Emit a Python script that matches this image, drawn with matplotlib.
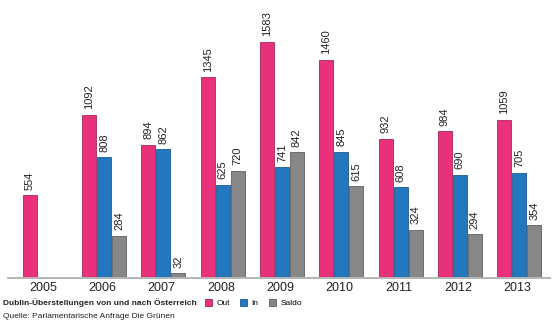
import matplotlib
matplotlib.use("Agg")
import matplotlib.pyplot as plt
import numpy as np

# data
years = ["2005", "2006", "2007", "2008", "2009", "2010", "2011", "2012", "2013"]
out_vals = [554, 1092, 894, 1345, 1583, 1460, 932, 984, 1059]
in_vals = [None, 808, 862, 625, 741, 845, 608, 690, 705]
saldo_vals = [None, 284, 32, 720, 842, 615, 324, 294, 354]

series_names = ["Out", "In", "Saldo"]
colors = ["#E8307B", "#2277BD", "#878787"]
edges = ["#A8285C", "#1A5A92", "#5E5E5E"]

plt.rcParams["font.family"] = ["Liberation Sans", "DejaVu Sans"]

fig = plt.figure(figsize=(5.6, 3.25), dpi=100)
ax = fig.add_axes([8 / 560, 47 / 325, 542 / 560, 278 / 325])

x = np.arange(len(years))
w = 0.236
offs = [-0.253, 0.0, 0.253]
handles = []
for k, vals in enumerate([out_vals, in_vals, saldo_vals]):
    xs = [x[i] + offs[k] for i, v in enumerate(vals) if v is not None]
    hs = [v for v in vals if v is not None]
    b = ax.bar(xs, hs, width=w, color=colors[k], edgecolor=edges[k],
               linewidth=0.6, label=series_names[k])
    handles.append(b)
    for xi, h in zip(xs, hs):
        ax.annotate(str(h), (xi, h), xytext=(0, 4), textcoords="offset points",
                    rotation=90, ha="center", va="bottom", fontsize=8,
                    color="#222222")

ax.set_xlim(-0.62, 8.52)
ax.set_ylim(0, 1862)
for s in ["top", "right", "left"]:
    ax.spines[s].set_visible(False)
ax.spines["bottom"].set_color("#B4B4B4")
ax.spines["bottom"].set_linewidth(1.4)
ax.set_yticks([])
ax.set_xticks(x - 0.03)
ax.set_xticklabels(years, fontsize=9, color="#222222")
ax.tick_params(axis="x", length=0, pad=3)

title = fig.text(3 / 560, 1 - 303 / 325, "Dublin-Überstellungen von und nach Österreich",
                 fontsize=6, fontweight="bold", va="center", ha="left", color="#222222")
fig.text(3 / 560, 1 - 316 / 325, "Quelle: Parlamentarische Anfrage Die Grünen",
         fontsize=6, va="center", ha="left", color="#222222")

# legend sits right after the title
fig.canvas.draw()
bb = title.get_window_extent()
fig.legend(handles=handles, labels=series_names, loc="center left",
           bbox_to_anchor=((bb.x1 + 8) / 560, 1 - 303 / 325), ncol=3, frameon=False,
           fontsize=6, handlelength=0.9, handleheight=0.9, handletextpad=0.5,
           columnspacing=1.2, borderpad=0, borderaxespad=0)

fig.savefig("out.png", dpi=100, facecolor="white")
